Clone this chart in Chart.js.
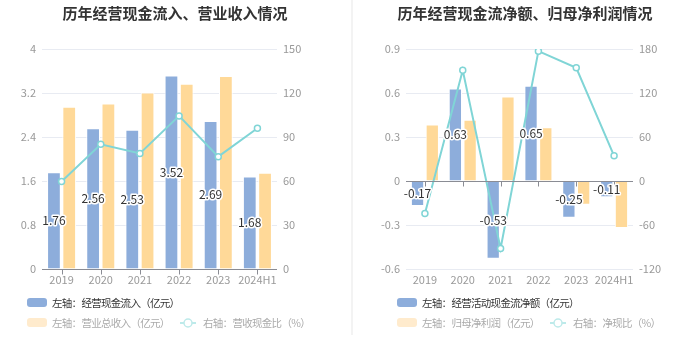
<!DOCTYPE html>
<html>
<head>
<meta charset="utf-8">
<script src="https://cdn.jsdelivr.net/npm/chart.js@4/dist/chart.umd.min.js"></script>
<style>
  body { margin: 0; background: #fff; font-family: "Noto Sans CJK SC", "Noto Sans", sans-serif; }
  #wrap { position: relative; width: 700px; height: 360px; overflow: hidden; }
  canvas { position: absolute; top: 0; }
  .title { position: absolute; top: 2px; width: 350px; text-align: center; font-size: 15px; font-weight: bold; color: #333; }
  .divider { position: absolute; left: 351px; top: 0; width: 2px; height: 335px; background: #f3f3f3; }
  .lg { position: absolute; font-size: 10.5px; letter-spacing: -0.7px; white-space: nowrap; line-height: 14px; }
  .box { position: absolute; width: 20px; height: 9px; border-radius: 3px; }
  .sym { position: absolute; width: 16px; height: 14px; }
</style>
</head>
<body>
<div id="wrap">
  <canvas id="c1" width="350" height="300" style="left:0"></canvas>
  <canvas id="c2" width="350" height="300" style="left:350px"></canvas>
  <div class="title" style="left:0">历年经营现金流入、营业收入情况</div>
  <div class="title" style="left:350px">历年经营现金流净额、归母净利润情况</div>
  <div class="divider"></div>

  <div class="box" style="left:27px;top:298px;background:#8DADDB"></div>
  <div class="lg" style="left:52px;top:296px;color:#333">左轴：经营现金流入（亿元）</div>
  <div class="box" style="left:27px;top:318px;background:#FFEBCD"></div>
  <div class="lg" style="left:52px;top:316px;color:#aaa">左轴：营业总收入（亿元）</div>
  <svg class="sym" style="left:180px;top:316px" viewBox="0 0 16 14"><line x1="0" y1="7" x2="16" y2="7" stroke="#BDEAEA" stroke-width="2"/><circle cx="8" cy="7" r="4" fill="#fff" stroke="#BDEAEA" stroke-width="1.5"/></svg>
  <div class="lg" style="left:203px;top:316px;color:#aaa">右轴：营收现金比（%）</div>

  <div class="box" style="left:397px;top:298px;background:#8DADDB"></div>
  <div class="lg" style="left:422px;top:296px;color:#333">左轴：经营活动现金流净额（亿元）</div>
  <div class="box" style="left:397px;top:318px;background:#FFEBCD"></div>
  <div class="lg" style="left:422px;top:316px;color:#aaa">左轴：归母净利润（亿元）</div>
  <svg class="sym" style="left:550px;top:316px" viewBox="0 0 16 14"><line x1="0" y1="7" x2="16" y2="7" stroke="#BDEAEA" stroke-width="2"/><circle cx="8" cy="7" r="4" fill="#fff" stroke="#BDEAEA" stroke-width="1.5"/></svg>
  <div class="lg" style="left:573px;top:316px;color:#aaa">右轴：净现比（%）</div>
</div>
<script>
// 数据
const years = ['2019', '2020', '2021', '2022', '2023', '2024H1'];

// 左图
const cashInflow = [1.76, 2.56, 2.53, 3.52, 2.69, 1.68];
const revenue = [2.95, 3.01, 3.21, 3.37, 3.51, 1.75];
const cashRevenueRatio = [59.6, 85.0, 78.8, 104.4, 76.6, 96.0];
const leftTicks = [0, 0.8, 1.6, 2.4, 3.2, 4];
const leftRightTicks = [0, 30, 60, 90, 120, 150];

// 右图
const netCashFlow = [-0.17, 0.63, -0.53, 0.65, -0.25, -0.11];
const netProfit = [0.385, 0.417, 0.576, 0.367, -0.162, -0.321];
const netCashRatio = [-44.2, 151.1, -92.0, 177.1, 154.3, 34.3];
const rightTicks = [-0.6, -0.3, 0, 0.3, 0.6, 0.9];
const rightRightTicks = [-120, -60, 0, 60, 120, 180];

const BLUE = '#8DADDB';
const ORANGE = '#FFD998';
const TEAL = '#80D5D6';
const GRID = '#E8EBF2';
const FONT = '"Noto Sans CJK SC", "Noto Sans", sans-serif';

Chart.defaults.font.family = FONT;

// 零轴线和刻度
const zeroAxis = {
    id: 'zeroAxis',
    afterDatasetsDraw(chart) {
        const ctx = chart.ctx;
        const y = Math.round(chart.scales.y.getPixelForValue(0)) + 0.5;
        const area = chart.chartArea;
        ctx.save();
        ctx.strokeStyle = '#8A8C94';
        ctx.lineWidth = 1;
        ctx.beginPath();
        ctx.moveTo(area.left, y);
        ctx.lineTo(area.right, y);
        chart.scales.x.ticks.forEach((t, i) => {
            const x = Math.round(chart.scales.x.getPixelForTick(i)) + 0.5;
            ctx.moveTo(x, y);
            ctx.lineTo(x, y + 5);
        });
        ctx.stroke();
        ctx.restore();
    }
};

// 柱子中间的数值
const barLabels = {
    id: 'barLabels',
    afterDatasetsDraw(chart) {
        const ctx = chart.ctx;
        const meta = chart.getDatasetMeta(0);
        const values = chart.data.datasets[0].data;
        ctx.save();
        ctx.font = '12px ' + FONT;
        ctx.textAlign = 'center';
        ctx.textBaseline = 'middle';
        ctx.lineJoin = 'round';
        meta.data.forEach((bar, i) => {
            const y = (bar.y + bar.base) / 2;
            ctx.strokeStyle = '#fff';
            ctx.lineWidth = 3;
            ctx.strokeText(values[i].toFixed(2), bar.x, y);
            ctx.fillStyle = '#333';
            ctx.fillText(values[i].toFixed(2), bar.x, y);
        });
        ctx.restore();
    }
};

function fmt(v) {
    return String(+v.toFixed(2));
}

function createChart(canvasId, bars1, bars2, line, yTicks, y1Ticks, leftW, rightW) {
    const ctx = document.getElementById(canvasId).getContext('2d');
    return new Chart(ctx, {
        type: 'bar',
        data: {
            labels: years,
            datasets: [{
                data: bars1,
                backgroundColor: BLUE,
                borderColor: '#fff',
                borderWidth: 1,
                categoryPercentage: 0.78,
                barPercentage: 0.9,
                yAxisID: 'y',
                order: 2
            }, {
                data: bars2,
                backgroundColor: ORANGE,
                borderColor: '#fff',
                borderWidth: 1,
                categoryPercentage: 0.78,
                barPercentage: 0.9,
                yAxisID: 'y',
                order: 2
            }, {
                type: 'line',
                data: line,
                borderColor: TEAL,
                borderWidth: 2,
                pointRadius: 3,
                pointBorderWidth: 1.5,
                pointBackgroundColor: '#fff',
                pointBorderColor: TEAL,
                yAxisID: 'y1',
                order: 1
            }]
        },
        options: {
            responsive: false,
            animation: false,
            devicePixelRatio: 1,
            layout: { padding: { top: 49, left: 0, right: 0, bottom: 0 } },
            plugins: { legend: { display: false }, tooltip: { enabled: false } },
            scales: {
                x: {
                    grid: { display: false, offset: false, drawTicks: false, tickLength: 0 },
                    border: { display: false },
                    ticks: { color: '#999', font: { size: 11 }, padding: 4, maxRotation: 0, minRotation: 0, autoSkip: false },
                    afterFit(s) { s.height = 31; }
                },
                y: {
                    position: 'left',
                    min: yTicks[0],
                    max: yTicks[yTicks.length - 1],
                    afterBuildTicks(s) { s.ticks = yTicks.map(v => ({ value: v })); },
                    grid: { color: GRID, drawTicks: false },
                    border: { display: false },
                    ticks: { color: '#999', font: { size: 11 }, padding: 6, callback: fmt },
                    afterFit(s) { s.width = leftW; }
                },
                y1: {
                    position: 'right',
                    min: y1Ticks[0],
                    max: y1Ticks[y1Ticks.length - 1],
                    afterBuildTicks(s) { s.ticks = y1Ticks.map(v => ({ value: v })); },
                    grid: { display: false, drawTicks: false },
                    border: { display: false },
                    ticks: { color: '#999', font: { size: 11 }, padding: 6, callback: fmt },
                    afterFit(s) { s.width = rightW; }
                }
            }
        },
        plugins: [zeroAxis, barLabels]
    });
}

createChart('c1', cashInflow, revenue, cashRevenueRatio, leftTicks, leftRightTicks, 42, 73);
createChart('c2', netCashFlow, netProfit, netCashRatio, rightTicks, rightRightTicks, 56, 67);
</script>
</body>
</html>
